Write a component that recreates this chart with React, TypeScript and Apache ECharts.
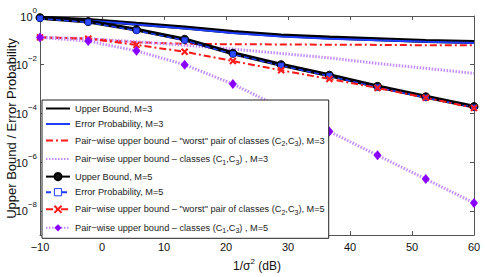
import React, { useEffect, useRef } from "react";
import * as echarts from "echarts";

// 1/sigma^2 in dB
const snrDb = [-10, -2.22, 5.56, 13.33, 21.11, 28.89, 36.67, 44.44, 52.22, 60];

// M = 3
const upperBoundM3 = [0.85, 0.69, 0.48, 0.34, 0.22, 0.16, 0.13, 0.11, 0.093, 0.085];
const errorProbM3 = [0.79, 0.66, 0.45, 0.31, 0.2, 0.145, 0.117, 0.1, 0.087, 0.078];
const worstPairM3 = [0.132, 0.117, 0.083, 0.072, 0.069, 0.068, 0.066, 0.065, 0.063, 0.063];
const c13PairM3 = [0.132, 0.117, 0.087, 0.063, 0.044, 0.029, 0.019, 0.0112, 0.0071, 0.0044];

// M = 5
const upperBoundM5 = [0.85, 0.59, 0.275, 0.11, 0.0295, 0.01, 0.0037, 0.00129, 0.00048, 0.00019];
const errorProbM5 = [0.79, 0.55, 0.25, 0.1, 0.027, 0.0091, 0.0034, 0.00117, 0.00044, 0.000174];
const worstPairM5 = [0.132, 0.117, 0.065, 0.034, 0.0141, 0.0059, 0.0026, 0.0011, 0.00044, 0.000166];
const c13PairM5 = [0.132, 0.093, 0.037, 0.01, 0.0016, 1.7e-4, 1.8e-5, 1.9e-6, 2.0e-7, 2.1e-8];

const yTickValues = [1e-8, 1e-6, 1e-4, 1e-2, 1];
const yAxisTitle = "Upper Bound / Error Probability";

const seriesNames = [
  "Upper Bound, M=3",
  "Error Probability, M=3",
  "Pair-wise upper bound - worst, M=3",
  "Pair-wise upper bound - C1C3, M=3",
  "Upper Bound, M=5",
  "Error Probability, M=5",
  "Pair-wise upper bound - worst, M=5",
  "Pair-wise upper bound - C1C3, M=5",
];

const legendLabels: Record<string, string> = {
  [seriesNames[0]]: "{a|Upper Bound, M=3}",
  [seriesNames[1]]: "{a|Error Probability, M=3}",
  [seriesNames[2]]: '{a|Pair\u2212wise upper bound \u2013 "worst" pair of classes (C}{s|2}{a|,C}{s|3}{a|), M=3}',
  [seriesNames[3]]: "{a|Pair\u2212wise upper bound \u2013 classes (C}{s|1}{a|,C}{s|3}{a|) , M=3}",
  [seriesNames[4]]: "{a|Upper Bound, M=5}",
  [seriesNames[5]]: "{a|Error Probability, M=5}",
  [seriesNames[6]]: '{a|Pair\u2212wise upper bound \u2013 "worst" pair of classes (C}{s|2}{a|,C}{s|3}{a|), M=5}',
  [seriesNames[7]]: "{a|Pair\u2212wise upper bound \u2013 classes (C}{s|1}{a|,C}{s|3}{a|) , M=5}",
};

const FONT = "Liberation Sans, Arial, Helvetica, sans-serif";
const AXIS_COLOR = "#555";
const PURPLE_LIGHT = "#c58cff";
const PURPLE = "#8a00ff";
const BLUE = "#1f3dff";
const RED = "#ff1a1a";
const CROSS = "path://M0,0L10,10M10,0L0,10";
const GRID_LEFT = 40;
const GRID_TOP = 16;
const GRID_BOTTOM = 36;

const pairs = (ys: number[]) => snrDb.map((x, i) => [x, ys[i]]);

export default function App() {
  const ref = useRef<HTMLDivElement>(null);
  useEffect(() => {
    if (!ref.current) return;
    const chart = echarts.init(ref.current, undefined, { renderer: "svg" });
    const xAxisBase = {
      type: "value" as const,
      min: -10,
      max: 60,
      interval: 10,
      axisLine: { show: true, onZero: false, lineStyle: { color: AXIS_COLOR, width: 1 } },
      axisTick: { show: true, inside: true, length: 4, lineStyle: { color: AXIS_COLOR } },
      splitLine: { show: false },
    };
    const yAxisBase = {
      type: "log" as const,
      logBase: 10,
      min: 1e-9,
      max: 1,
      axisLine: { show: true, onZero: false, lineStyle: { color: AXIS_COLOR, width: 1 } },
      axisTick: { show: true, inside: true, length: 4, lineStyle: { color: AXIS_COLOR }, customValues: yTickValues },
      axisLabel: { show: false },
      splitLine: { show: false },
      minorTick: { show: false },
    };
    const option: any = {
      animation: false,
      backgroundColor: "#fff",
      textStyle: { fontFamily: FONT },
      grid: { left: GRID_LEFT, right: 11, top: GRID_TOP, bottom: GRID_BOTTOM, containLabel: false },
      xAxis: [
        {
          ...xAxisBase,
          position: "bottom",
          name: "1/\u03c3{e|2} (dB)",
          nameLocation: "middle",
          nameGap: 21,
          nameTextStyle: {
            fontFamily: FONT,
            fontSize: 12,
            color: "#111",
            rich: {
              e: { fontSize: 8, verticalAlign: "top", lineHeight: 18, fontFamily: FONT, color: "#111" },
            },
          },
          axisLabel: {
            show: true,
            margin: 6,
            fontSize: 11,
            color: "#111",
            fontFamily: FONT,
            formatter: (v: number) => (v < 0 ? "\u2212" + Math.abs(v) : String(v)),
          },
        },
        {
          ...xAxisBase,
          position: "top",
          axisLabel: { show: false },
        },
      ],
      yAxis: [
        {
          ...yAxisBase,
          position: "left",
        },
        {
          ...yAxisBase,
          position: "right",
        },
      ],
      legend: {
        show: true,
        z: 20,
        orient: "vertical",
        left: 42,
        top: 100,
        padding: [4, 4, 4, 3],
        itemGap: 6.5,
        itemWidth: 24,
        itemHeight: 9,
        backgroundColor: "#fff",
        borderColor: "#222",
        borderWidth: 1,
        borderRadius: 0,
        data: [
          { name: seriesNames[0], itemStyle: { opacity: 0 } },
          { name: seriesNames[1], itemStyle: { opacity: 0 } },
          { name: seriesNames[2], itemStyle: { opacity: 0 } },
          { name: seriesNames[3], itemStyle: { opacity: 0 } },
          { name: seriesNames[4] },
          { name: seriesNames[5], itemStyle: { color: "#fff", borderColor: BLUE, borderWidth: 1 } },
          { name: seriesNames[6] },
          { name: seriesNames[7] },
        ],
        formatter: (name: string) => legendLabels[name],
        textStyle: {
          fontFamily: FONT,
          fontSize: 9.2,
          color: "#222",
          rich: {
            a: { fontFamily: FONT, fontSize: 9.2, color: "#222", lineHeight: 13, verticalAlign: "middle" },
            s: { fontFamily: FONT, fontSize: 7, color: "#222", lineHeight: 13, verticalAlign: "bottom", padding: [5, 0, 0, 0] },
          },
        },
      },
      series: [
        {
          name: seriesNames[0],
          type: "line",
          data: pairs(upperBoundM3),
          symbol: "none",
          lineStyle: { color: "#000", width: 4 },
          itemStyle: { color: "#000" },
        },
        {
          name: seriesNames[1],
          type: "line",
          data: pairs(errorProbM3),
          symbol: "none",
          lineStyle: { color: BLUE, width: 2 },
          itemStyle: { color: BLUE },
        },
        {
          name: seriesNames[2],
          type: "line",
          data: pairs(worstPairM3),
          symbol: "none",
          lineStyle: { color: RED, width: 2, type: [7, 3, 2, 3] },
          itemStyle: { color: RED },
        },
        {
          name: seriesNames[3],
          type: "line",
          data: pairs(c13PairM3),
          symbol: "none",
          lineStyle: { color: PURPLE_LIGHT, width: 3, type: [1.5, 1.5] },
          itemStyle: { color: PURPLE_LIGHT },
        },
        {
          name: seriesNames[4],
          type: "line",
          data: pairs(upperBoundM5),
          symbol: "circle",
          symbolSize: 8,
          lineStyle: { color: "#000", width: 4 },
          itemStyle: { color: "#111", borderColor: "#000", borderWidth: 1 },
        },
        {
          name: seriesNames[5],
          type: "line",
          data: pairs(errorProbM5),
          symbol: "rect",
          symbolSize: 5,
          lineStyle: { color: BLUE, width: 1.5, type: [5, 3] },
          itemStyle: { color: "#3050ff", borderColor: BLUE, borderWidth: 1 },
        },
        {
          name: seriesNames[6],
          type: "line",
          data: pairs(worstPairM5),
          symbol: CROSS,
          symbolSize: 6,
          lineStyle: { color: RED, width: 2, type: [7, 3, 2, 3] },
          itemStyle: { color: "none", borderColor: RED, borderWidth: 2 },
        },
        {
          name: seriesNames[7],
          type: "line",
          data: pairs(c13PairM5),
          symbol: "diamond",
          symbolSize: [8, 10],
          lineStyle: { color: PURPLE_LIGHT, width: 3, type: [1.5, 1.5] },
          itemStyle: { color: PURPLE },
        },
      ],
    };
    chart.setOption(option);

    // y tick labels (10^n), placed through the y axis scale
    const labels: any[] = yTickValues.map((v) => {
      const py = chart.convertToPixel({ yAxisIndex: 0 } as any, v) as unknown as number;
      const e = Math.round(Math.log10(v));
      const eText = e < 0 ? "\u2212" + Math.abs(e) : String(e);
      return {
        type: "text",
        z: 100,
        x: GRID_LEFT - 3,
        y: py - 2,
        style: {
          text: "{b|10}{e|" + eText + "}",
          align: "right",
          verticalAlign: "middle",
          fill: "#111",
          rich: {
            b: { fontSize: 11, fontFamily: FONT, fill: "#111", verticalAlign: "bottom", lineHeight: 16 },
            e: { fontSize: 8, fontFamily: FONT, fill: "#111", verticalAlign: "top", lineHeight: 16 },
          },
        },
      };
    });
    // y axis title, rotated, centred on the plot area
    const midY = GRID_TOP + (chart.getHeight() - GRID_TOP - GRID_BOTTOM) / 2;
    labels.push({
      type: "text",
      z: 100,
      x: 11,
      y: midY,
      rotation: Math.PI / 2,
      style: {
        text: yAxisTitle,
        align: "center",
        verticalAlign: "middle",
        fill: "#111",
        font: "13px " + FONT,
      },
    });
    chart.setOption({ graphic: labels });
    return () => chart.dispose();
  }, []);
  return (
    <div
      ref={ref}
      style={{ position: "fixed", left: 0, top: 0, width: 485, height: 277 }}
    />
  );
}
